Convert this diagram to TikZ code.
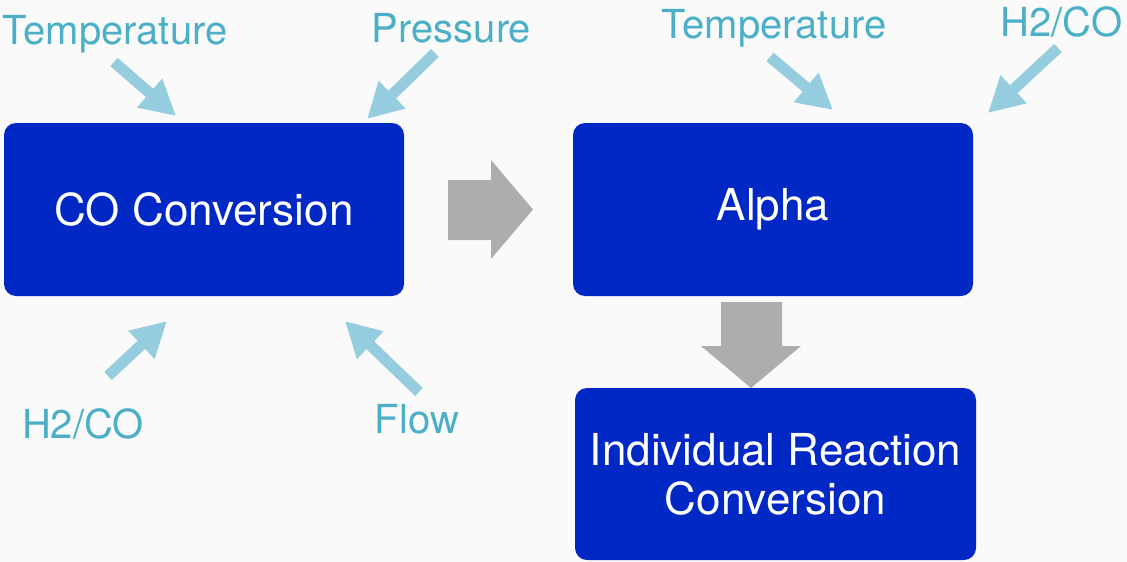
\documentclass[tikz,border=0pt]{standalone}
\usepackage{fontspec}
\setmainfont{TeX Gyre Heros}
\usetikzlibrary{arrows.meta}
\definecolor{boxblue}{HTML}{0028C4}
\definecolor{labelteal}{HTML}{4BAFC8}
\definecolor{pointblue}{HTML}{96CDDE}
\definecolor{flowgrey}{HTML}{ADADAD}
\definecolor{paper}{HTML}{FAFAFA}
\tikzset{
  stage/.style = {rounded corners = 12pt, fill = boxblue, text = white, align = center,
    minimum width = 400pt, minimum height = 173pt, inner sep = 0pt,
    font = \fontsize{44}{49}\selectfont},
  factor/.style = {text = labelteal, anchor = base, inner sep = 0pt,
    font = \fontsize{40}{48}\selectfont},
  influence/.style = {color = pointblue, line width = 11pt,
    -{Triangle[width = 36pt, length = 35pt]}},
}
\begin{document}
\begin{tikzpicture}[x=1pt,y=-1pt]
  \fill [paper] (0,0) rectangle (1127,562);
  \useasboundingbox (0,0) rectangle (1127,562);
% the three stages
  \node [stage] (co) at (204,209.5) {CO Conversion};
  \node [stage] (alpha) at (773,209.5) {Alpha};
  \node [stage, minimum width = 401pt, minimum height = 172pt] (irc) at (775.5,474) {Individual Reaction\\Conversion};
% grey block arrows
  \fill [flowgrey] (448,180) -- (491,180) -- (491,160) -- (533,209.5) -- (491,259) -- (491,240) -- (448,240) -- cycle;
  \fill [flowgrey] (721,302) -- (721,346) -- (701,346) -- (751,388) -- (801,346) -- (782,346) -- (782,302) -- cycle;
% factors on CO Conversion
  \node [factor] (tempL) at (115,44) {Temperature};
  \node [factor] (pres) at (451.5,42) {Pressure};
  \node [factor] (ratioL) at (83,438) {H2/CO};
  \node [factor] (flow) at (417,433) {Flow};
  \coordinate (tempLtail) at (114,62);   \coordinate (tempLtip) at (176,116);
  \coordinate (prestail) at (435,53);    \coordinate (prestip) at (367,119);
  \coordinate (ratioLtail) at (108,376); \coordinate (ratioLtip) at (167,321);
  \coordinate (flowtail) at (419,392);   \coordinate (flowtip) at (345,321);
  \draw [influence] (tempLtail) -- (tempLtip);
  \draw [influence] (prestail) -- (prestip);
  \draw [influence] (ratioLtail) -- (ratioLtip);
  \draw [influence] (flowtail) -- (flowtip);
% factors on Alpha
  \node [factor] (tempR) at (774,38) {Temperature};
  \node [factor] (ratioR) at (1061.5,36) {H2/CO};
  \coordinate (tempRtail) at (770,57);   \coordinate (tempRtip) at (833,110);
  \coordinate (ratioRtail) at (1058,48); \coordinate (ratioRtip) at (988,113);
  \draw [influence] (tempRtail) -- (tempRtip);
  \draw [influence] (ratioRtail) -- (ratioRtip);
\end{tikzpicture}
\end{document}
